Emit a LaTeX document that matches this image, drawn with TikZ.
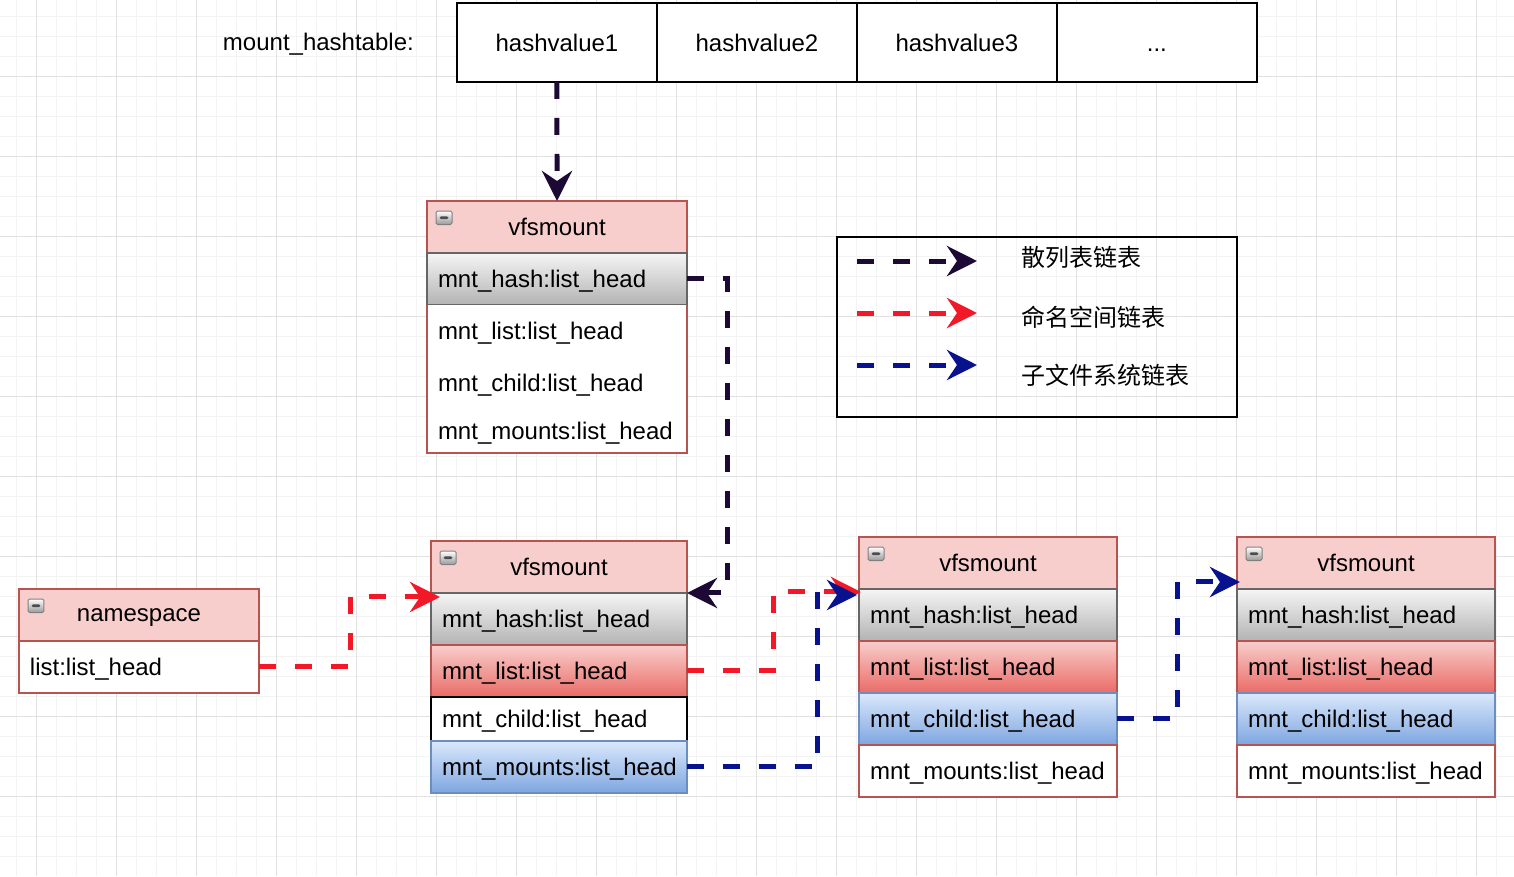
\documentclass[tikz,border=0pt]{standalone}
\usepackage{fontspec}
\setmainfont{Liberation Sans}
\newfontfamily\cjk{Noto Sans CJK SC}
\usepackage{xcolor}
\usepackage{tikz}
\usetikzlibrary{arrows.meta,positioning}
\definecolor{hdrfill}{RGB}{248,206,204}
\definecolor{hdrline}{RGB}{184,84,80}
\definecolor{grayline}{RGB}{102,102,102}
\definecolor{graytop}{RGB}{245,245,245}
\definecolor{graybot}{RGB}{179,179,179}
\definecolor{redtop}{RGB}{248,206,204}
\definecolor{redbot}{RGB}{234,107,102}
\definecolor{bluetop}{RGB}{218,232,252}
\definecolor{bluebot}{RGB}{126,166,224}
\definecolor{blueline}{RGB}{108,142,191}
\definecolor{hashc}{RGB}{28,10,52}
\definecolor{nsc}{RGB}{242,24,40}
\definecolor{mntc}{RGB}{8,18,142}
\definecolor{gridminor}{RGB}{243,243,243}
\definecolor{gridmajor}{RGB}{225,225,225}
\newcommand{\boxfont}{\fontsize{13.66pt}{16pt}\selectfont}
\newcommand{\legfont}{\cjk\fontsize{13.66pt}{16pt}\selectfont}

\begin{document}
\begin{tikzpicture}[
    x=0.02cm, y=-0.02cm,
    base/.style={rectangle, outer sep=0pt, inner xsep=0.22cm, inner ysep=0pt, line width=0.04cm, font=\boxfont, text depth=0pt, minimum height=1.04cm},
    hdr/.style={base, draw=hdrline, fill=hdrfill, minimum width=#1*0.02cm, /utils/exec={\pgfmathsetlengthmacro\fieldtw{(#1-22)*0.02cm}}, text width=\fieldtw, align=center},
    field/.style={base, minimum width=#1*0.02cm, /utils/exec={\pgfmathsetlengthmacro\fieldtw{(#1-22)*0.02cm}}, text width=\fieldtw, align=left},
    plainf/.style={field=#1, fill=white},
    grayf/.style={field=#1, draw=grayline, top color=graytop, bottom color=graybot},
    redf/.style={field=#1, draw=hdrline, top color=redtop, bottom color=redbot},
    bluef/.style={field=#1, draw=blueline, top color=bluetop, bottom color=bluebot},
    cell/.style={rectangle, draw=black, fill=white, line width=0.04cm, outer sep=0pt, minimum width=4cm, minimum height=1.58cm, font=\boxfont, text height=0.35cm, text depth=0pt},
    icon/.style={rectangle, rounded corners=0.03cm, draw=black!50, line width=0.02cm, top color=white, bottom color=black!40, minimum width=0.32cm, minimum height=0.27cm, inner sep=0pt, outer sep=0pt, anchor=north west,
        path picture={\fill[black!70] ([xshift=0.07cm, yshift=-0.027cm]path picture bounding box.west) rectangle ([xshift=-0.07cm, yshift=0.027cm]path picture bounding box.east);}},
    link/.style={line width=0.1cm, dash pattern=on 0.34cm off 0.38cm, -{Stealth[length=0.6cm, width=0.6cm, inset=0.2cm]}},
    hashlink/.style={link, hashc},
    nslink/.style={link, nsc},
    mntlink/.style={link, mntc}
]
    \useasboundingbox (0,0) rectangle (1514,876);

    % Background grid
    \foreach \g in {16.7,36.7,...,1514}
        \draw[gridminor, line width=0.02cm] (\g,0) -- (\g,876);
    \foreach \g in {16.7,36.7,...,876}
        \draw[gridminor, line width=0.02cm] (0,\g) -- (1514,\g);
    \foreach \g in {36.7,116.7,...,1514}
        \draw[gridmajor, line width=0.025cm] (\g,0) -- (\g,876);
    \foreach \g in {76.7,156.7,...,876}
        \draw[gridmajor, line width=0.025cm] (0,\g) -- (1514,\g);

    % Hash table
    \node[cell, anchor=north west] (hv1) at (457,3) {hashvalue1};
    \node[cell, right=0pt of hv1] (hv2) {hashvalue2};
    \node[cell, right=0pt of hv2] (hv3) {hashvalue3};
    \node[cell, right=0pt of hv3] (hv4) {...};
    \node[font=\boxfont, left=0.74cm of hv1, yshift=-0.03cm] (htitle) {mount\_hashtable:};

    % First vfsmount
    \node[hdr=260, anchor=north west] (va) at (427,201) {vfsmount};
    \node[grayf=260, below=0pt of va] (vahash) {mnt\_hash:list\_head};
    \node[plainf=260, below=0pt of vahash] (valist) {mnt\_list:list\_head};
    \node[plainf=260, below=0pt of valist] (vachild) {mnt\_child:list\_head};
    \node[plainf=260, below=0pt of vachild, minimum height=0.88cm] (vamnt) {mnt\_mounts:list\_head};
    \draw[hdrline, line width=0.04cm] (valist.north west) |- (vamnt.south east) -- (valist.north east);

    % Second vfsmount
    \node[hdr=256, anchor=north west] (vb) at (431,541) {vfsmount};
    \node[grayf=256, below=0pt of vb] (vbhash) {mnt\_hash:list\_head};
    \node[redf=256, below=0pt of vbhash] (vblist) {mnt\_list:list\_head};
    \node[plainf=256, draw=black, below=0pt of vblist, minimum height=0.88cm] (vbchild) {mnt\_child:list\_head};
    \node[bluef=256, below=0pt of vbchild] (vbmnt) {mnt\_mounts:list\_head};

    % Third vfsmount
    \node[hdr=258, anchor=north west] (vc) at (859,537) {vfsmount};
    \node[grayf=258, below=0pt of vc] (vchash) {mnt\_hash:list\_head};
    \node[redf=258, below=0pt of vchash] (vclist) {mnt\_list:list\_head};
    \node[bluef=258, below=0pt of vclist] (vcchild) {mnt\_child:list\_head};
    \node[plainf=258, draw=hdrline, below=0pt of vcchild] (vcmnt) {mnt\_mounts:list\_head};

    % Fourth vfsmount
    \node[hdr=258, anchor=north west] (vd) at (1237,537) {vfsmount};
    \node[grayf=258, below=0pt of vd] (vdhash) {mnt\_hash:list\_head};
    \node[redf=258, below=0pt of vdhash] (vdlist) {mnt\_list:list\_head};
    \node[bluef=258, below=0pt of vdlist] (vdchild) {mnt\_child:list\_head};
    \node[plainf=258, draw=hdrline, below=0pt of vdchild] (vdmnt) {mnt\_mounts:list\_head};

    % Namespace
    \node[hdr=240, anchor=north west] (ns) at (19,589) {namespace};
    \node[plainf=240, draw=hdrline, below=0pt of ns] (nslist) {list:list\_head};

    % Collapse icons
    \foreach \h in {va,vb,vc,vd,ns}
        \node[icon] (\h icon) at ([shift={(9,10)}]\h.north west) {};

    % Links
    \draw[hashlink] (hv1.south) -- (va.north);
    \draw[hashlink] (vahash.east) -- ++(40,0) |- (vbhash.north east);
    \draw[nslink] (nslist.east) -- ++(91,0) |- ([shift={(9,4)}]vbhash.north west);
    \draw[nslink] (vblist.east) -- ++(86,0) |- ([shift={(2,3)}]vchash.north west);
    \draw[mntlink] (vbmnt.east) -- ++(130,0) |- ([shift={(-2,6)}]vchash.north west);
    \draw[mntlink] (vcchild.east) -- ++(60,0) |- ([shift={(3,-7)}]vdhash.north west);

    % Legend
    \node[draw=black, line width=0.04cm, outer sep=0pt, minimum width=8cm, minimum height=3.6cm, anchor=north west] (legend) at (837,237) {};
    \foreach \ly/\ty/\sty/\txt [count=\i] in {261/257/hashlink/散列表链表, 313/317/nslink/命名空间链表, 365/375/mntlink/子文件系统链表}{
        \coordinate (ls\i) at (857,\ly);
        \coordinate (le\i) at (977,\ly);
        \draw[\sty] (ls\i) -- (le\i);
        \node[font=\legfont, anchor=west, inner sep=0pt] (lt\i) at (1021,\ty) {\txt};
    }
\end{tikzpicture}
\end{document}
